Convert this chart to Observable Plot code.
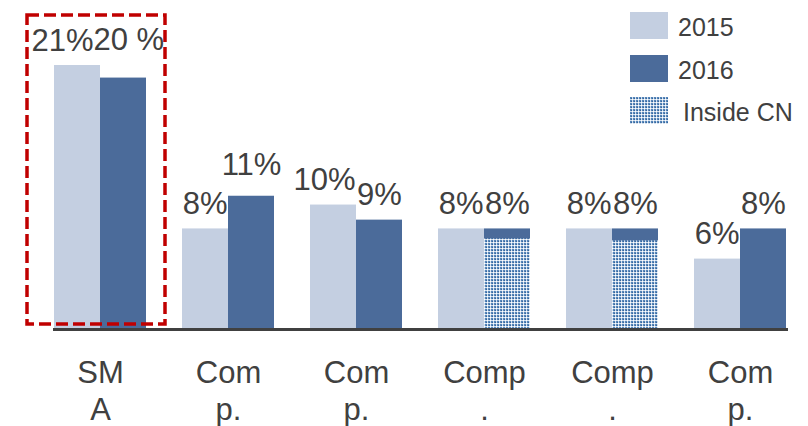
<!DOCTYPE html>
<html><head><meta charset="utf-8">
<script src="https://cdn.jsdelivr.net/npm/d3@7"></script>
<script src="https://cdn.jsdelivr.net/npm/@observablehq/plot@0.6"></script>
<style>
body{margin:0;background:#fff;font-family:"Liberation Sans",Arial,sans-serif;}
#wrap{position:relative;width:808px;height:426px;overflow:hidden;}
#legend{position:absolute;left:630px;top:12px;}
.item{display:flex;align-items:center;height:27px;margin-bottom:15.5px;font-size:25px;color:#404040;}
.item span{position:relative;top:2px;white-space:nowrap;}
.sw{width:38px;height:27px;flex:none;}
</style></head><body>
<svg width="0" height="0" style="position:absolute">
  <defs>
    <pattern id="cn" patternUnits="userSpaceOnUse" width="3" height="3">
      <rect width="3" height="3" fill="#d3e0ee"/>
      <rect x="0" y="0" width="2" height="2" fill="#5484b8"/>
      <rect x="1" y="1" width="1" height="1" fill="#35659b"/>
      <rect x="2" y="2" width="1" height="1" fill="#ffffff"/>
    </pattern>
  </defs>
</svg>
<div id="wrap"><div id="legend"></div></div>
<script>
const categories = ["SM\nA", "Com\np.", "Com\np.", "Comp\n.", "Comp\n.", "Com\np."];
const years = ["2015", "2016"];
const values2015 = [21, 8, 9.9, 8, 8, 5.6];
const values2016 = [20, 10.6, 8.7, 8, 8, 8];
const labels2015 = ["21%", "8%", "10%", "8%", "8%", "6%"];
const labels2016 = ["20 %", "11%", "9%", "8%", "8%", "8%"];
const insideCN = [null, null, null, 7.2, 7.05, null];
const legendLabels = ["2015", "2016", "Inside CN"];

const colors = {"2015": "#c4cfe1", "2016": "#4b6b9a"};
const idx = d3.range(categories.length);

const rows = [];
idx.forEach(i => {
  rows.push({i, year: "2015", value: values2015[i], label: labels2015[i]});
  rows.push({i, year: "2016", value: values2016[i], label: labels2016[i]});
});
const insideRows = idx.filter(i => insideCN[i] != null).map(i => ({i, year: "2016", value: insideCN[i]}));
const r15 = rows.filter(d => d.year === "2015");
const r16 = rows.filter(d => d.year === "2016");
const txt = {fx: "i", x: "year", y: "value", text: "label", lineAnchor: "bottom", fontSize: 31, fill: "#404040"};

const chart = Plot.plot({
  width: 808,
  height: 426,
  marginLeft: 34,
  marginRight: 3,
  marginTop: 65,
  marginBottom: 97,
  style: {color: "#404040", fontFamily: "'Liberation Sans', Arial, sans-serif", background: "transparent", overflow: "visible"},
  fx: {domain: idx, paddingInner: 0.284, paddingOuter: 0.142, axis: null},
  x: {domain: years, padding: 0, axis: null},
  y: {domain: [0, 21], axis: null},
  color: {domain: years, range: years.map(y => colors[y])},
  marks: [
    Plot.barY(rows, {fx: "i", x: "year", y: "value", fill: "year"}),
    Plot.barY(insideRows, {fx: "i", x: "year", y: "value", fill: "url(#cn)"}),
    Plot.frame({anchor: "bottom", facet: "super", stroke: "#404040", strokeWidth: 3}),
    Plot.text(r15.filter(d => d.i > 0), {...txt, textAnchor: "end", dx: 22, dy: -15}),
    Plot.text(r15.filter(d => d.i === 0), {...txt, textAnchor: "end", dx: 16, dy: -15}),
    Plot.text(r16.filter(d => d.i > 1), {...txt, dy: -15}),
    Plot.text(r16.filter(d => d.i === 1), {...txt, dy: -21}),
    Plot.text(r16.filter(d => d.i === 0), {...txt, textAnchor: "start", dx: -30, dy: -28}),
    Plot.rect([0], {fx: d => d, y1: 0, y2: 21, insetLeft: -27, insetRight: -19, insetTop: -50, insetBottom: 5, fill: "none", stroke: "#c00000", strokeWidth: 3.5, strokeDasharray: "12,5"}),
    Plot.axisFx({anchor: "bottom", tickFormat: i => categories[i], tickSize: 0, tickPadding: 27, fontSize: 31, lineHeight: 1.19, label: null, fill: "#404040"})
  ]
});
document.getElementById("wrap").prepend(chart);

const legend = document.getElementById("legend");
const swatchFills = [colors["2015"], colors["2016"], "url(#cn)"];
legendLabels.forEach((lab, k) => {
  const item = document.createElement("div");
  item.className = "item";
  const sw = document.createElementNS("http://www.w3.org/2000/svg", "svg");
  sw.setAttribute("class", "sw");
  sw.setAttribute("width", 38); sw.setAttribute("height", 27);
  const r = document.createElementNS("http://www.w3.org/2000/svg", "rect");
  r.setAttribute("width", 38); r.setAttribute("height", 27);
  r.setAttribute("fill", swatchFills[k]);
  sw.appendChild(r);
  const t = document.createElement("span");
  t.textContent = lab;
  t.style.marginLeft = (k === 2 ? 15 : 10) + "px";
  item.appendChild(sw); item.appendChild(t);
  legend.appendChild(item);
});
</script>
</body></html>
